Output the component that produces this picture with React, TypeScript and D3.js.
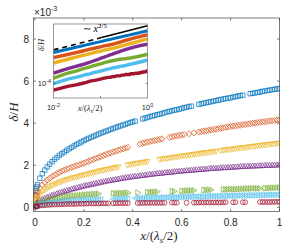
import React from "react";
import * as d3 from "d3";

// x positions (x / (lambda_s/2))
const xValues = [
  0.002, 0.004, 0.006, 0.008,
  0.01, 0.02, 0.03, 0.04, 0.05, 0.06, 0.07, 0.08, 0.09, 0.1,
  0.11, 0.12, 0.13, 0.14, 0.15, 0.16, 0.17, 0.18, 0.19, 0.2,
  0.21, 0.22, 0.23, 0.24, 0.25, 0.26, 0.27, 0.28, 0.29, 0.3,
  0.31, 0.32, 0.33, 0.34, 0.35, 0.36, 0.37, 0.38, 0.39, 0.4,
  0.41, 0.42, 0.43, 0.44, 0.45, 0.46, 0.47, 0.48, 0.49, 0.5,
  0.51, 0.52, 0.53, 0.54, 0.55, 0.56, 0.57, 0.58, 0.59, 0.6,
  0.61, 0.62, 0.63, 0.64, 0.65, 0.66, 0.67, 0.68, 0.69, 0.7,
  0.71, 0.72, 0.73, 0.74, 0.75, 0.76, 0.77, 0.78, 0.79, 0.8,
  0.81, 0.82, 0.83, 0.84, 0.85, 0.86, 0.87, 0.88, 0.89, 0.9,
  0.91, 0.92, 0.93, 0.94, 0.95, 0.96, 0.97, 0.98, 0.99, 1.0,
];

// delta/H values, in units of 1e-3 (null = no marker)
const blueSeries = [
  0.6, 0.77, 0.9, 0.99,
  1.08, 1.38, 1.6, 1.77, 1.92, 2.05, 2.17, 2.28, 2.37, 2.47,
  2.55, 2.63, 2.71, 2.78, 2.85, 2.92, 2.99, 3.05, 3.11, 3.17,
  3.23, 3.28, 3.33, 3.38, 3.43, 3.48, 3.53, 3.57, 3.62, 3.66,
  3.71, 3.75, 3.79, 3.83, 3.87, 3.91, 3.95, 3.99, 4.03, 4.06,
  4.1, null, null, 4.2, 4.24, 4.27, 4.31, 4.34, 4.37, 4.4,
  4.43, 4.46, 4.5, 4.53, 4.56, 4.59, 4.62, 4.64, 4.67, 4.7,
  4.73, 4.76, 4.79, 4.81, null, null, 4.89, 4.92, 4.95, 4.97,
  5.0, 5.02, 5.05, 5.07, 5.1, 5.12, 5.15, 5.17, 5.19, 5.21,
  5.24, 5.26, 5.29, 5.31, 5.33, null, null, 5.4, 5.42, 5.44,
  5.46, 5.48, 5.51, 5.53, 5.55, 5.57, 5.59, 5.61, 5.63, 5.65,
];
const orangeSeries = [
  0.4, 0.52, 0.58, 0.66,
  0.72, 0.92, 1.06, 1.18, 1.29, 1.38, 1.46, 1.53, 1.6, 1.66,
  1.72, 1.77, 1.82, 1.86, 1.9, 1.94, 1.98, 2.02, 2.06, 2.1,
  2.15, 2.19, 2.24, 2.28, 2.33, 2.37, 2.42, 2.46, 2.51, 2.55,
  2.59, 2.63, 2.67, 2.71, 2.75, 2.78, 2.82, 2.85, null, null,
  null, null, 3.01, 3.04, 3.07, 3.1, 3.13, 3.15, 3.18, 3.2,
  3.23, 3.25, null, null, 3.33, 3.35, 3.38, 3.4, 3.42, 3.44,
  3.46, null, 3.5, null, 3.54, null, 3.58, 3.6, 3.62, 3.64,
  3.66, 3.68, 3.7, 3.72, 3.74, 3.76, 3.78, 3.8, 3.82, 3.84,
  3.86, 3.87, 3.89, 3.91, 3.93, 3.94, 3.96, 3.98, 4.0, 4.01,
  4.03, 4.04, 4.06, 4.07, 4.09, 4.1, 4.12, 4.13, 4.15, 4.16,
];
const yellowSeries = [
  0.24, 0.32, 0.38, 0.43,
  0.48, 0.64, 0.75, 0.84, 0.91, 0.98, 1.04, 1.1, 1.15, 1.2,
  1.24, 1.28, 1.32, 1.35, 1.39, 1.42, 1.45, 1.48, 1.51, 1.54,
  1.57, 1.6, 1.63, 1.66, 1.69, 1.72, 1.75, 1.77, 1.8, 1.82,
  1.85, 1.87, 1.9, 1.92, null, null, null, 2.02, 2.04, 2.06,
  2.08, 2.1, 2.12, 2.14, 2.16, 2.18, null, null, null, null,
  2.28, 2.3, 2.32, 2.33, 2.35, 2.37, 2.39, 2.4, 2.42, 2.44,
  2.46, 2.47, 2.49, 2.5, 2.52, 2.54, 2.56, 2.57, 2.59, 2.6,
  2.62, 2.63, 2.65, 2.66, null, 2.7, 2.72, 2.73, 2.75, 2.76,
  2.78, 2.79, 2.81, 2.82, 2.84, 2.85, 2.87, 2.88, 2.9, 2.91,
  2.93, 2.94, 2.96, 2.97, 2.99, 3.0, 3.01, 3.02, 3.04, 3.05,
];
const purpleSeries = [
  0.1, 0.14, 0.17, 0.2,
  0.22, 0.31, 0.37, 0.42, 0.47, 0.51, 0.56, 0.6, 0.64, 0.68,
  0.72, 0.75, 0.79, 0.82, 0.86, 0.89, 0.92, 0.95, 0.98, 1.01,
  1.04, 1.06, 1.09, 1.11, 1.14, 1.16, 1.19, 1.21, 1.24, 1.26,
  1.28, 1.3, 1.32, 1.34, 1.36, 1.38, 1.4, 1.42, 1.44, 1.45,
  1.47, 1.48, 1.5, 1.51, 1.53, 1.54, 1.56, 1.57, 1.59, 1.6,
  1.61, 1.62, 1.64, 1.65, 1.66, 1.67, 1.69, 1.7, 1.71, 1.72,
  1.73, 1.74, 1.75, 1.76, 1.77, 1.78, 1.79, 1.8, 1.81, 1.82,
  1.83, 1.84, 1.85, 1.85, 1.86, 1.87, 1.88, 1.88, 1.89, 1.9,
  1.91, 1.91, 1.92, 1.93, 1.94, 1.94, 1.95, 1.95, 1.96, 1.96,
  1.97, 1.97, 1.98, 1.98, 1.99, 1.99, 2.0, 2.0, 2.01, 2.01,
];
const greenSeries = [
  0.07, 0.1, 0.12, 0.14,
  0.15, 0.22, 0.26, 0.3, 0.33, 0.36, 0.39, 0.41, 0.43, 0.45,
  0.47, 0.49, 0.51, 0.52, 0.54, 0.55, 0.56, 0.57, 0.58, 0.59,
  0.6, 0.61, 0.62, 0.63, 0.63, 0.64, null, null, null, null,
  null, 0.66, 0.66, 0.67, 0.67, 0.68, 0.68, 0.69, null, null,
  null, 0.7, null, null, null, 0.72, 0.72, 0.73, 0.73, 0.74,
  null, null, null, null, null, 0.76, 0.76, null, null, 0.78,
  0.78, 0.79, 0.79, 0.8, 0.8, null, null, null, 0.82, 0.82,
  0.83, 0.83, null, null, null, null, 0.85, 0.85, 0.85, 0.86,
  0.86, 0.86, 0.87, 0.87, 0.88, 0.88, 0.89, 0.89, 0.9, 0.9,
  0.9, 0.9, null, 0.91, 0.91, 0.92, 0.92, 0.93, 0.93, 0.94,
];
const cyanSeries = [
  0.04, 0.06, 0.08, 0.09,
  0.1, 0.14, 0.16, 0.18, 0.2, 0.21, 0.23, 0.24, 0.25, 0.26,
  0.27, 0.28, 0.29, 0.3, 0.3, 0.31, 0.32, 0.33, 0.33, 0.34,
  0.34, 0.35, 0.35, 0.36, 0.36, 0.37, 0.37, null, null, null,
  null, 0.39, 0.39, 0.4, 0.4, 0.41, 0.41, 0.41, null, null,
  0.43, 0.43, 0.44, 0.44, 0.44, 0.44, 0.45, 0.45, 0.46, 0.46,
  0.46, 0.46, 0.47, 0.47, 0.48, 0.48, 0.48, 0.48, 0.49, 0.49,
  0.5, 0.5, 0.5, 0.5, 0.51, 0.51, 0.51, 0.51, 0.52, 0.52,
  0.53, 0.53, 0.53, 0.53, 0.54, 0.54, 0.54, 0.54, 0.55, 0.55,
  0.55, 0.55, 0.56, 0.56, 0.56, 0.56, 0.57, 0.57, 0.57, 0.57,
  0.58, 0.58, 0.58, 0.58, 0.59, 0.59, 0.59, 0.59, 0.6, 0.6,
];
const redSeries = [
  0.03, 0.04, 0.05, 0.055,
  0.06, 0.08, 0.09, 0.1, 0.11, 0.12, 0.125, 0.13, 0.135, 0.14,
  0.145, 0.15, 0.155, 0.16, 0.16, 0.16, 0.165, 0.17, 0.17, 0.17,
  0.175, 0.18, 0.18, 0.18, 0.18, 0.18, 0.185, 0.19, 0.19, 0.19,
  null, 0.19, 0.195, 0.2, 0.2, 0.2, 0.2, 0.2, null, null,
  null, 0.2, 0.205, 0.21, 0.21, 0.21, 0.21, 0.21, 0.21, 0.21,
  0.21, 0.21, 0.215, null, null, 0.22, 0.22, 0.22, null, null,
  null, 0.22, null, null, 0.22, 0.22, 0.225, 0.23, 0.23, 0.23,
  0.23, 0.23, 0.23, 0.23, 0.23, 0.23, 0.235, 0.24, null, null,
  0.24, 0.24, null, null, 0.24, 0.24, null, null, null, null,
  null, 0.25, 0.25, 0.25, 0.25, 0.25, 0.255, 0.26, 0.26, 0.26,
];

const allSeries = [blueSeries, orangeSeries, yellowSeries, purpleSeries, greenSeries, cyanSeries, redSeries];
const seriesColors = ["#0072BD", "#D95319", "#EDB120", "#7E2F8E", "#77AC30", "#4DBEEE", "#A2142F"];
const seriesMarkers = ["square", "diamond", "triDown", "triUp", "triRight", "triLeft", "circle"];

const mainXTicks = [0, 0.2, 0.4, 0.6, 0.8, 1];
const mainXTickLabels = ["0", "0.2", "0.4", "0.6", "0.8", "1"];
const mainYTicks = [0, 2, 4, 6, 8];
const mainYTickLabels = ["0", "2", "4", "6", "8"];

// inset reference power law ~ x^{2/5} (units 1e-3)
const refDashX = [0.01, 0.105];
const refDashY = [1.31, 3.36];
const refSolidX = [0.105, 1];
const refSolidY = [3.36, 8.3];

const insetXTicks = [0.01, 1];
const insetXTickExp = ["-2", "0"];
const insetYTicks = [0.1];
const insetYTickExp = ["-4"];

function markerPath(kind: string, cx: number, cy: number): string {
  switch (kind) {
    case "square": {
      const h = 2.2;
      return `M${cx - h},${cy - h}h${2 * h}v${2 * h}h${-2 * h}Z`;
    }
    case "diamond": {
      const r = 3.1;
      return `M${cx},${cy - r}L${cx + r},${cy}L${cx},${cy + r}L${cx - r},${cy}Z`;
    }
    case "triUp":
      return `M${cx},${cy - 3.1}L${cx + 2.9},${cy + 1.9}L${cx - 2.9},${cy + 1.9}Z`;
    case "triDown":
      return `M${cx},${cy + 3.1}L${cx + 2.9},${cy - 1.9}L${cx - 2.9},${cy - 1.9}Z`;
    case "triRight":
      return `M${cx + 3.1},${cy}L${cx - 1.9},${cy + 2.9}L${cx - 1.9},${cy - 2.9}Z`;
    case "triLeft":
      return `M${cx - 3.1},${cy}L${cx + 1.9},${cy + 2.9}L${cx + 1.9},${cy - 2.9}Z`;
    default: {
      const r = 2.4;
      return `M${cx - r},${cy}a${r},${r} 0 1,0 ${2 * r},0a${r},${r} 0 1,0 ${-2 * r},0Z`;
    }
  }
}

export default function App() {
  const W = 287, H = 244;
  const mL = 33.5, mR = 279.5, mT = 18, mB = 211.5;
  const x = d3.scaleLinear().domain([-0.006, 1]).range([mL, mR]);
  const y = d3.scaleLinear().domain([-0.2, 9]).range([mB, mT]);

  const iL = 53.5, iR = 147.5, iT = 24, iB = 98;
  const ix = d3.scaleLog().domain([0.01, 1]).range([iL, iR]);
  const iy = d3.scaleLog().domain([0.033, 9.5]).range([iB, iT]);

  const axisColor = "#262626";
  const sans = "'Liberation Sans', Arial, Helvetica, sans-serif";
  const serif = "'Liberation Serif', 'Times New Roman', serif";
  const tick = 2.5;

  const insetLine = d3
    .line<[number, number]>()
    .x((d) => ix(d[0]))
    .y((d) => iy(d[1]));

  const insetPoints = (s: (number | null)[]) =>
    xValues
      .map((xv, i) => [xv, s[i]] as [number, number | null])
      .filter((d) => d[1] != null && d[0] >= 0.01) as [number, number][];

  return (
    <svg
      width={W}
      height={H}
      viewBox={`0 0 ${W} ${H}`}
      style={{ position: "absolute", left: 0, top: 0, background: "#fff" }}
    >
      <rect x={0} y={0} width={W} height={H} fill="#fff" />
      <defs>
        <clipPath id="mainClip">
          <rect x={mL} y={mT} width={mR - mL} height={mB - mT} />
        </clipPath>
        <clipPath id="insetClip">
          <rect x={iL} y={iT} width={iR - iL} height={iB - iT} />
        </clipPath>
      </defs>

      {/* main data */}
      <g clipPath="url(#mainClip)">
        {allSeries.map((s, si) => (
          <path
            key={si}
            d={s
              .map((v, i) => (v == null ? "" : markerPath(seriesMarkers[si], x(xValues[i]), y(v))))
              .join("")}
            fill="none"
            stroke={seriesColors[si]}
            strokeWidth={0.7}
          />
        ))}
      </g>

      {/* main axes box */}
      <rect x={mL} y={mT} width={mR - mL} height={mB - mT} fill="none" stroke={axisColor} strokeWidth={0.6} />
      {mainXTicks.map((t, i) => (
        <g key={"xt" + i}>
          <line x1={x(t)} x2={x(t)} y1={mB} y2={mB - tick} stroke={axisColor} strokeWidth={0.6} />
          <line x1={x(t)} x2={x(t)} y1={mT} y2={mT + tick} stroke={axisColor} strokeWidth={0.6} />
          <text x={x(t)} y={226} textAnchor="middle" fontFamily={sans} fontSize={10} fill={axisColor}>
            {mainXTickLabels[i]}
          </text>
        </g>
      ))}
      {mainYTicks.map((t, i) => (
        <g key={"yt" + i}>
          <line x1={mL} x2={mL + tick} y1={y(t)} y2={y(t)} stroke={axisColor} strokeWidth={0.6} />
          <line x1={mR} x2={mR - tick} y1={y(t)} y2={y(t)} stroke={axisColor} strokeWidth={0.6} />
          <text x={29} y={y(t) + 3.6} textAnchor="end" fontFamily={sans} fontSize={10} fill={axisColor}>
            {mainYTickLabels[i]}
          </text>
        </g>
      ))}
      <text x={34} y={16} fontFamily={sans} fontSize={10} fill={axisColor}>
        ×10
        <tspan fontSize={7} dy={-5.5}>-3</tspan>
      </text>
      <text
        transform="translate(18,112) rotate(-90)"
        textAnchor="middle"
        fontFamily={serif}
        fontSize={13}
        fill={axisColor}
      >
        <tspan fontStyle="italic">δ</tspan>/<tspan fontStyle="italic">H</tspan>
      </text>
      <text x={159} y={240} textAnchor="middle" fontFamily={serif} fontSize={13} fill={axisColor}>
        <tspan fontStyle="italic">x</tspan>/(<tspan fontStyle="italic">λ</tspan>
        <tspan fontStyle="italic" fontSize={9} dy={2.5}>s</tspan>
        <tspan dy={-2.5}>/2)</tspan>
      </text>

      {/* inset */}
      <rect x={iL} y={iT} width={iR - iL} height={iB - iT} fill="#fff" />
      <g clipPath="url(#insetClip)">
        {allSeries.map((s, si) => (
          <path
            key={"il" + si}
            d={insetLine(insetPoints(s)) || ""}
            fill="none"
            stroke={seriesColors[si]}
            strokeWidth={si === 0 ? 3 : 3.4}
          />
        ))}
        <path
          d={refLine(refDashX, refDashY, ix, iy)}
          fill="none"
          stroke="#000"
          strokeWidth={1.6}
          strokeDasharray="5,4"
        />
        <path d={refLine(refSolidX, refSolidY, ix, iy)} fill="none" stroke="#000" strokeWidth={1.6} />
      </g>
      <rect x={iL} y={iT} width={iR - iL} height={iB - iT} fill="none" stroke="#555" strokeWidth={0.6} />
      {insetXTicks.map((t, i) => (
        <g key={"ixt" + i}>
          <text x={ix(t)} y={110} textAnchor="middle" fontFamily={sans} fontSize={7.5} fill={axisColor}>
            10
            <tspan fontSize={5.5} dy={-3.5}>{insetXTickExp[i]}</tspan>
          </text>
        </g>
      ))}
      <line x1={ix(0.1)} x2={ix(0.1)} y1={iB} y2={iB - 2} stroke={axisColor} strokeWidth={0.5} />
      <line x1={ix(0.1)} x2={ix(0.1)} y1={iT} y2={iT + 2} stroke={axisColor} strokeWidth={0.5} />
      {insetYTicks.map((t, i) => (
        <g key={"iyt" + i}>
          <line x1={iL} x2={iL + 2} y1={iy(t)} y2={iy(t)} stroke={axisColor} strokeWidth={0.5} />
          <line x1={iR} x2={iR - 2} y1={iy(t)} y2={iy(t)} stroke={axisColor} strokeWidth={0.5} />
          <text x={51} y={iy(t) + 2.5} textAnchor="end" fontFamily={sans} fontSize={7.5} fill={axisColor}>
            10
            <tspan fontSize={5.5} dy={-3.5}>{insetYTickExp[i]}</tspan>
          </text>
        </g>
      ))}
      <text
        transform="translate(44,45) rotate(-90)"
        textAnchor="middle"
        fontFamily={serif}
        fontSize={8.5}
        fill={axisColor}
      >
        <tspan fontStyle="italic">δ</tspan>/<tspan fontStyle="italic">H</tspan>
      </text>
      <text x={90} y={111} textAnchor="middle" fontFamily={serif} fontSize={8.5} fill={axisColor}>
        <tspan fontStyle="italic">x</tspan>/(<tspan fontStyle="italic">λ</tspan>
        <tspan fontStyle="italic" fontSize={6} dy={1.8}>s</tspan>
        <tspan dy={-1.8}>/2)</tspan>
      </text>
      <text x={83} y={32} fontFamily={serif} fontSize={10} fill="#000">
        ∼ <tspan fontStyle="italic">x</tspan>
        <tspan fontSize={7} dy={-4.5}>2/5</tspan>
      </text>
    </svg>
  );
}

function refLine(
  xs: number[],
  ys: number[],
  sx: d3.ScaleLogarithmic<number, number>,
  sy: d3.ScaleLogarithmic<number, number>
): string {
  return (
    d3
      .line<[number, number]>()
      .x((d) => sx(d[0]))
      .y((d) => sy(d[1]))(xs.map((xv, i) => [xv, ys[i]] as [number, number])) || ""
  );
}
